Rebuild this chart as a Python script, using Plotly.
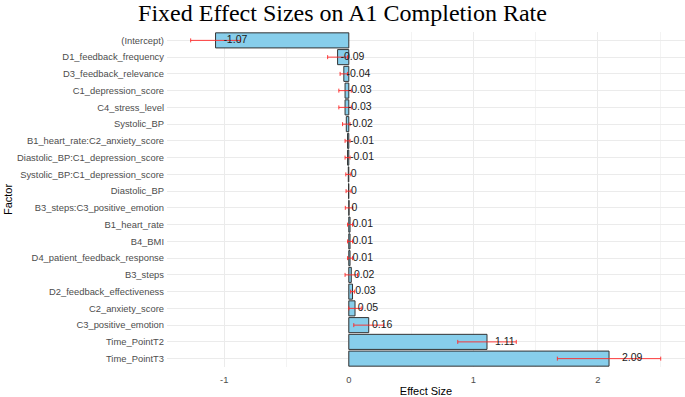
import plotly.graph_objects as go

factors = ["(Intercept)", "D1_feedback_frequency", "D3_feedback_relevance",
           "C1_depression_score", "C4_stress_level", "Systolic_BP",
           "B1_heart_rate:C2_anxiety_score", "Diastolic_BP:C1_depression_score",
           "Systolic_BP:C1_depression_score", "Diastolic_BP",
           "B3_steps:C3_positive_emotion", "B1_heart_rate", "B4_BMI",
           "D4_patient_feedback_response", "B3_steps", "D2_feedback_effectiveness",
           "C2_anxiety_score", "C3_positive_emotion", "Time_PointT2", "Time_PointT3"]
effects = [-1.07, -0.09, -0.04, -0.03, -0.03, -0.02, -0.01, -0.01, -0.004, -0.002,
           0.002, 0.01, 0.01, 0.01, 0.02, 0.03, 0.05, 0.16, 1.11, 2.09]
ci_half = [0.20, 0.08, 0.03, 0.05, 0.05, 0.03, 0.02, 0.02, 0.02, 0.02,
           0.03, 0.02, 0.02, 0.02, 0.05, 0.015, 0.05, 0.12, 0.235, 0.415]
x_ticks = [-1, 0, 1, 2]
x_ticktext = ["-1", "0", "1", "2"]


def fmt(v):
    r = round(v, 2)
    if r == 0:
        return "0"
    return f"{r:g}"


labels = [fmt(v) for v in effects]
# label anchor: just right of the value, nudged slightly more for long bars
label_x = [v + 0.02 + 0.04 * abs(v) for v in effects]
n = len(factors)

fig = go.Figure()
fig.add_trace(go.Bar(
    x=effects, y=factors, orientation="h",
    marker=dict(color="#87CEEB", line=dict(color="#333333", width=1)),
    error_x=dict(type="data", array=ci_half, color="rgba(255,40,40,0.9)",
                 thickness=1, width=2),
    showlegend=False, hoverinfo="skip",
))
fig.add_trace(go.Scatter(
    x=label_x, y=factors, mode="text", text=labels,
    textposition="middle right",
    textfont=dict(family="Liberation Sans", size=10.5, color="#1a1a1a"),
    showlegend=False, cliponaxis=False, hoverinfo="skip",
))

fig.update_layout(
    width=685, height=397,
    margin=dict(l=167, r=0, t=32, b=30, autoexpand=False),
    paper_bgcolor="white", plot_bgcolor="white",
    bargap=0.1,
    title=dict(text="Fixed Effect Sizes on A1 Completion Rate",
               font=dict(family="Liberation Serif", size=24, color="black"),
               x=0.5, xanchor="center", xref="container",
               y=1 - 13 / 397, yanchor="middle", yref="container", automargin=False),
    font=dict(family="Liberation Sans"),
)
fig.update_xaxes(
    range=[-1.46, 2.70], tickvals=x_ticks, ticktext=x_ticktext, zeroline=False,
    showgrid=True, gridcolor="#EBEBEB", gridwidth=1,
    minor=dict(dtick=0.5, tick0=0.5, showgrid=True, gridcolor="#F3F3F3", gridwidth=1),
    tickfont=dict(size=9.4, color="#4D4D4D"), ticks="", showline=False,
    automargin=False, ticklabelstandoff=6,
    title=dict(text="Effect Size", font=dict(size=11, color="black"), standoff=2),
)
fig.update_yaxes(
    categoryorder="array", categoryarray=factors, range=[n - 0.5, -0.5],
    showgrid=True, gridcolor="#EBEBEB", gridwidth=1, zeroline=False,
    tickfont=dict(size=9.4, color="#4D4D4D"), ticks="", showline=False,
    ticklabelstandoff=2, automargin=False,
    title=dict(text="Factor", font=dict(size=11, color="black"), standoff=2),
)

fig.write_html("out.html", config={"displayModeBar": False},
               post_script="document.body.style.margin='0px';")
